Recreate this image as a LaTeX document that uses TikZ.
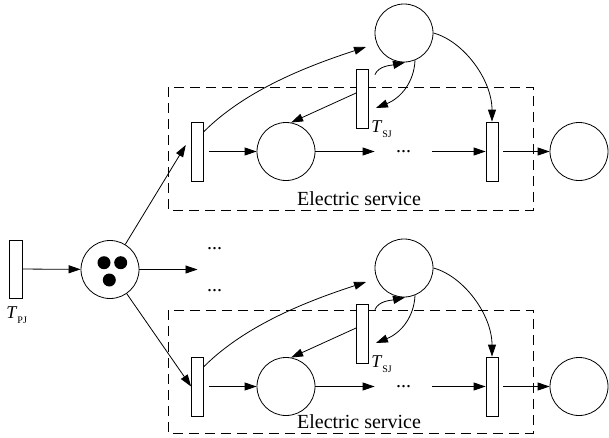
\documentclass[tikz,border=0pt]{standalone}
\usepackage{fontspec}
\setmainfont{Liberation Serif}
\usetikzlibrary{arrows.meta,calc}
\begin{document}
\begin{tikzpicture}[x=1pt,y=1pt,line width=0.8pt,
  place/.style={circle,draw,minimum size=58pt,inner sep=0pt},
  trans/.style={rectangle,draw,fill=white,minimum width=12pt,minimum height=59pt,inner sep=0pt},
  arr/.style={-{Triangle[length=12pt,width=8pt]}},
  servicebox/.style={draw,dash pattern=on 10pt off 6pt},
  dotsnode/.style={inner sep=0pt,font=\fontsize{20}{20}\selectfont},
  lbl/.style={inner sep=0pt,font=\fontsize{20}{24}\selectfont},
  tlabel/.style={inner sep=0pt,anchor=base west,font=\fontsize{18}{20}\selectfont}]
\useasboundingbox (0,0) rectangle (609,-437);

% two identical service sub-nets, stacked
\foreach \s/\dy/\db in {a/0/0, b/235/223}{
  \draw[servicebox] (168,{-87-\db}) rectangle (533,{-210-\db});
  \node[lbl,anchor=base] (es\s) at (359,{-205-\db}) {Electric service};
  \node[place] (tc\s) at (404,{-33-\dy}) {};
  \node[trans] (tsj\s) at (362.5,{-98.5-\dy}) {};
  \node[trans] (lt\s) at (197.5,{-151.5-\dy}) {};
  \node[place] (mc\s) at (286,{-151.5-\dy}) {};
  \node[dotsnode,minimum width=57pt] (dt\s) at (403.5,{-151.5-\dy}) {...};
  \node[trans] (rt\s) at (492,{-151.5-\dy}) {};
  \node[place] (oc\s) at (579,{-151.5-\dy}) {};
  \node[tlabel] (tsjl\s) at ($(tsj\s.south east)+(2,-4)$)
    {\textit{T}\raisebox{-5pt}{\fontsize{10}{10}\selectfont SJ}};
  % arcs
  \draw[arr] ([yshift=-10pt]lt\s.north east) .. controls +(42,42) and +(-57,-18.5) .. ($(tc\s)+(-38,-14)$);
  \draw[arr] ($(tsj\s.north east)+(6,-6)$) .. controls +(4,9) and +(-14,-3) .. ($(tc\s.south)+(1,0)$);
  \draw[arr] (tc\s.-68) .. controls +(-1,-22) and +(25,10) .. ($(tsj\s.east)+(7,-9.5)$);
  \draw[arr] ($(tsj\s.west)+(0,5.5)$) -- (mc\s.80);
  \draw[arr] (tc\s.east) .. controls +(30,-8) and +(0,42) .. (rt\s.north);
  \draw[arr,shorten <=5pt] (lt\s) -- (mc\s);
  \draw[arr] (mc\s) -- (dt\s);
  \draw[arr] (dt\s) -- (rt\s);
  \draw[arr,shorten <=5pt] (rt\s) -- (oc\s);
}

% dispatching transition and the marked place
\node[trans,minimum width=13pt,minimum height=58pt] (tpj) at (15.5,-269) {};
\node[tlabel] (tpjl) at (6,-318) {\textit{T}\raisebox{-5pt}{\fontsize{10}{10}\selectfont PJ}};
\node[place] (tok) at (110,-269.5) {};
\fill ($(tok)+(-6,6.8)$) circle[radius=6.5];
\fill ($(tok)+(10.7,6.8)$) circle[radius=6.5];
\fill ($(tok)+(-0.7,-10.5)$) circle[radius=6.5];
\draw[arr] (tpj) -- (tok);
\coordinate (mid) at (197.5,-269.5);
\draw[arr] (tok) -- (mid);
\node[dotsnode] (du) at (214.5,-249) {...};
\node[dotsnode] (dd) at (214.5,-291) {...};
\draw[arr] (tok) -- ($(lta.west)+(-5.3,6.5)$);
\draw[arr] (tok) -- (ltb.west);
\end{tikzpicture}
\end{document}
